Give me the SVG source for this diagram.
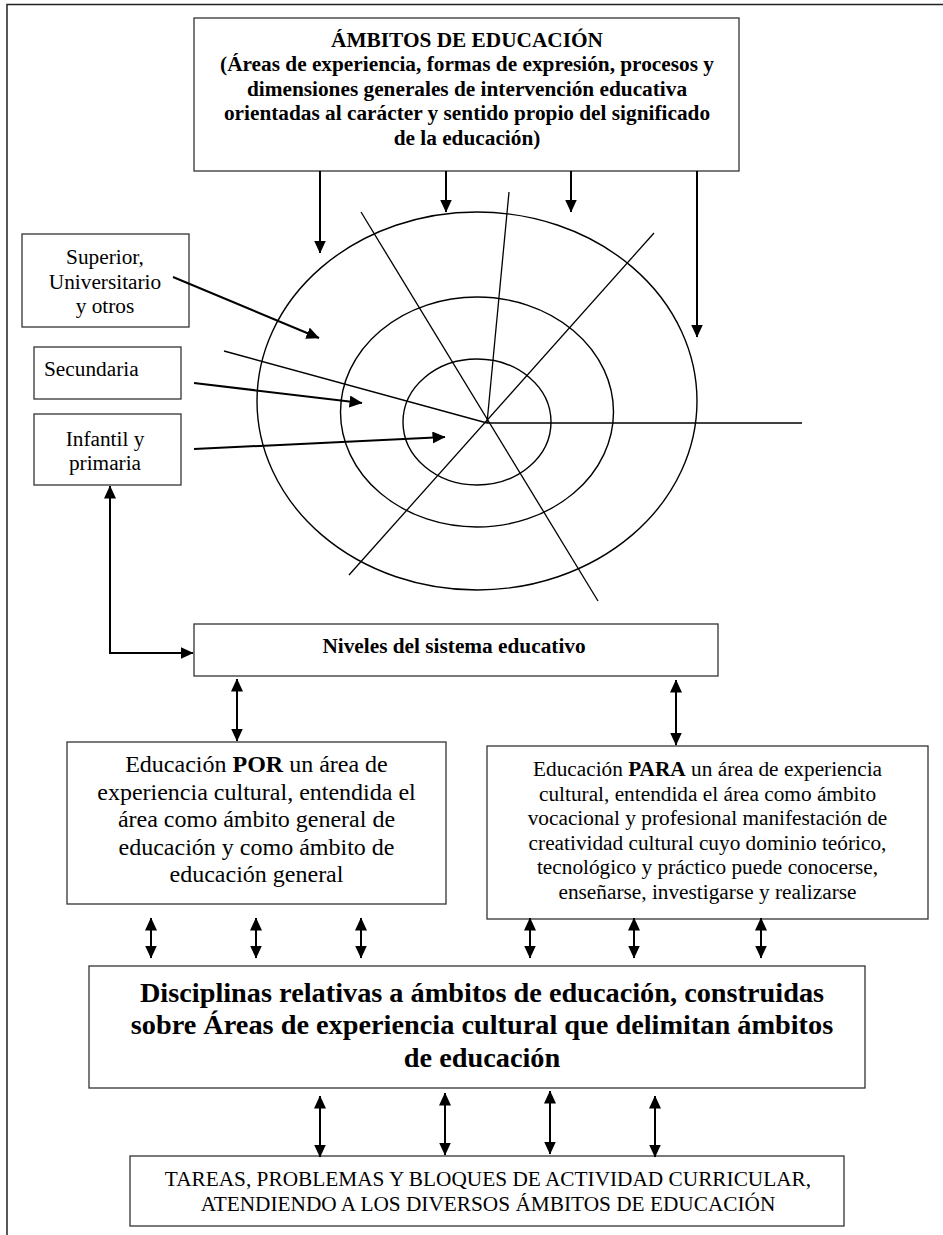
<svg xmlns="http://www.w3.org/2000/svg" width="943" height="1235" viewBox="0 0 943 1235">
<style>
.box{fill:#fff;stroke:#333;stroke-width:1.3}
.t{font-family:"Liberation Serif","Times New Roman",serif;fill:#000}
.c{text-anchor:middle}
.b{font-weight:bold}
.f21{font-size:21.3px}
.f24{font-size:24px}
.f28{font-size:28.3px}
.ring{fill:none;stroke:#000;stroke-width:1.4}
.spoke{stroke:#000;stroke-width:1.3;fill:none}
.arr{stroke:#000;stroke-width:2;fill:none;marker-end:url(#ah)}
.dbl{stroke:#000;stroke-width:2;fill:none;marker-end:url(#ah);marker-start:url(#ah)}
</style>
<defs>
<marker id="ah" viewBox="0 0 13 12" refX="12.5" refY="6" markerWidth="13" markerHeight="12" markerUnits="userSpaceOnUse" orient="auto-start-reverse">
<path d="M0,0 L13,6 L0,12 z" fill="#000"/>
</marker>
</defs>
<rect x="0" y="0" width="943" height="1235" fill="#fff"/>
<path d="M7,1235 V4.5 H943" fill="none" stroke="#222" stroke-width="1.5"/>

<g id="target-diagram">
<g class="ring">
<ellipse cx="477" cy="401" rx="220" ry="189"/>
<ellipse cx="477" cy="412" rx="136.5" ry="115"/>
<ellipse cx="477" cy="422" rx="74" ry="63"/>
</g>
<g class="spoke">
<line x1="361" y1="212" x2="598" y2="601"/>
<line x1="509" y1="192" x2="487" y2="423"/>
<line x1="654" y1="233" x2="349" y2="575"/>
<line x1="224" y1="351" x2="487" y2="423"/>
<line x1="487" y1="423" x2="802" y2="423"/>
</g>
</g>

<g id="ambitos">
<rect class="box" x="194" y="18" width="545" height="153"/>
<text class="t c b f21" x="467" y="46.5">ÁMBITOS DE EDUCACIÓN</text>
<text class="t c b f21" x="467" y="71">(Áreas de experiencia, formas de expresión, procesos y</text>
<text class="t c b f21" x="467" y="95.5">dimensiones generales de intervención educativa</text>
<text class="t c b f21" x="467" y="120">orientadas al carácter y sentido propio del significado</text>
<text class="t c b f21" x="467" y="144.5">de la educación)</text>
</g>

<g id="superior">
<rect class="box" x="22" y="234" width="167" height="93"/>
<text class="t c f21" x="105" y="264">Superior,</text>
<text class="t c f21" x="105" y="288.5">Universitario</text>
<text class="t c f21" x="105" y="313">y otros</text>
</g>

<g id="secundaria">
<rect class="box" x="34" y="347" width="147" height="52"/>
<text class="t f21" x="44" y="376">Secundaria</text>
</g>

<g id="infantil">
<rect class="box" x="34" y="414" width="147" height="71"/>
<text class="t c f21" x="105" y="446">Infantil y</text>
<text class="t c f21" x="105" y="470">primaria</text>
</g>

<g id="niveles">
<rect class="box" x="194" y="624" width="524" height="52"/>
<text class="t c b f21" x="454" y="653">Niveles del sistema educativo</text>
</g>

<g id="por">
<rect class="box" x="67" y="742" width="379" height="162"/>
<text class="t c f24" x="256.5" y="772"><tspan>Educación </tspan><tspan font-weight="bold">POR</tspan><tspan> un área de</tspan></text>
<text class="t c f24" x="256.5" y="799.5">experiencia cultural, entendida el</text>
<text class="t c f24" x="256.5" y="827">área como ámbito general de</text>
<text class="t c f24" x="256.5" y="854.5">educación y como ámbito de</text>
<text class="t c f24" x="256.5" y="882">educación general</text>
</g>

<g id="para">
<rect class="box" x="487" y="746" width="441" height="173"/>
<text class="t c f21" x="707.5" y="776"><tspan>Educación </tspan><tspan font-weight="bold">PARA</tspan><tspan> un área de experiencia</tspan></text>
<text class="t c f21" x="707.5" y="800.5">cultural, entendida el área como ámbito</text>
<text class="t c f21" x="707.5" y="825">vocacional y profesional manifestación de</text>
<text class="t c f21" x="707.5" y="849.5">creatividad cultural cuyo dominio teórico,</text>
<text class="t c f21" x="707.5" y="874">tecnológico y práctico puede conocerse,</text>
<text class="t c f21" x="707.5" y="898.5">enseñarse, investigarse y realizarse</text>
</g>

<g id="disciplinas">
<rect class="box" x="89" y="966" width="776" height="122"/>
<text class="t c b f28" x="482" y="1001.5">Disciplinas relativas a ámbitos de educación, construidas</text>
<text class="t c b f28" x="482" y="1034">sobre Áreas de experiencia cultural que delimitan ámbitos</text>
<text class="t c b f28" x="482" y="1066.5">de educación</text>
</g>

<g id="tareas">
<rect class="box" x="130" y="1156" width="714" height="70"/>
<text class="t c f21" x="488" y="1186">TAREAS, PROBLEMAS Y BLOQUES DE ACTIVIDAD CURRICULAR,</text>
<text class="t c f21" x="488" y="1210.5">ATENDIENDO A LOS DIVERSOS ÁMBITOS DE EDUCACIÓN</text>
</g>

<g id="connectors">
<line class="arr" x1="320" y1="171" x2="320" y2="253"/>
<line class="arr" x1="446" y1="171" x2="446" y2="212"/>
<line class="arr" x1="571" y1="171" x2="571" y2="212"/>
<line class="arr" x1="697" y1="171" x2="697" y2="337"/>
<line class="arr" x1="173" y1="277" x2="319" y2="338"/>
<line class="arr" x1="194" y1="383" x2="362" y2="403"/>
<line class="arr" x1="194" y1="449" x2="445" y2="437"/>
<path class="dbl" d="M110,486 V653 H193"/>
<line class="dbl" x1="237" y1="679" x2="237" y2="741"/>
<line class="dbl" x1="676" y1="680" x2="676" y2="745"/>
<line class="dbl" x1="151" y1="918" x2="151" y2="958"/>
<line class="dbl" x1="256" y1="918" x2="256" y2="958"/>
<line class="dbl" x1="361" y1="918" x2="361" y2="958"/>
<line class="dbl" x1="530" y1="918" x2="530" y2="958"/>
<line class="dbl" x1="634" y1="918" x2="634" y2="958"/>
<line class="dbl" x1="761" y1="918" x2="761" y2="958"/>
<line class="dbl" x1="320" y1="1096" x2="320" y2="1157"/>
<line class="dbl" x1="445" y1="1093" x2="445" y2="1155"/>
<line class="dbl" x1="550" y1="1091" x2="550" y2="1154"/>
<line class="dbl" x1="655" y1="1096" x2="655" y2="1157"/>
</g>
</svg>
